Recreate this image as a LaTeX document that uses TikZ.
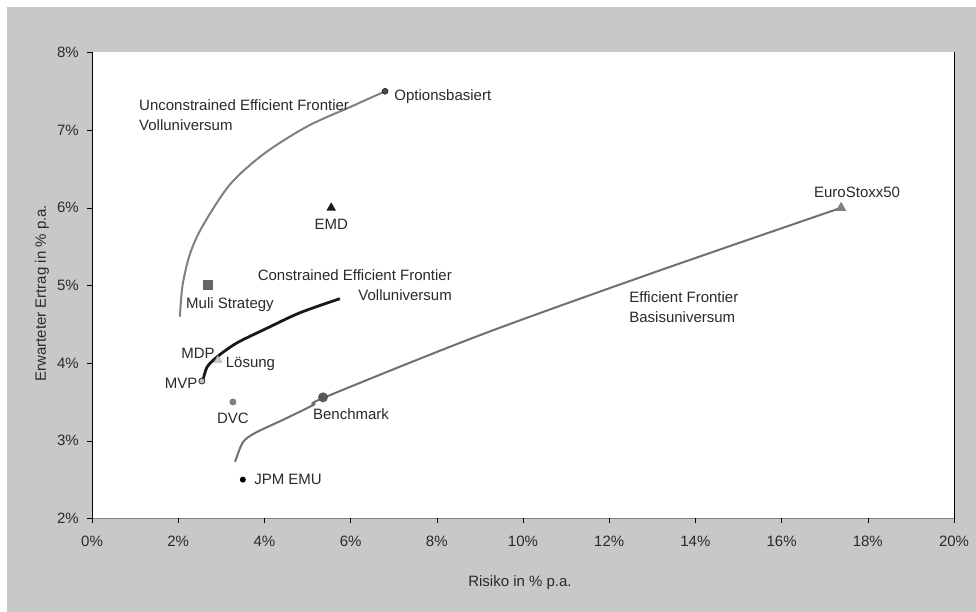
\documentclass[tikz,border=0pt]{standalone}
\usepackage{fontspec}
\setmainfont{Liberation Sans}
\usepackage{xcolor}
\usetikzlibrary{positioning,shapes.geometric}
\definecolor{chartbg}{HTML}{C8C8C8}
\definecolor{txt}{HTML}{2A2A2A}
\definecolor{lightline}{HTML}{808080}
\definecolor{darkline}{HTML}{707070}
\begin{document}
\begin{tikzpicture}[x=43.1pt,y=77.67pt,font=\fontsize{15}{20}\selectfont,
  lbl/.style={inner sep=1pt,text=txt},
  tri/.style={regular polygon,regular polygon sides=3,inner sep=0pt},
  dot/.style={circle,inner sep=0pt}]
\fill[white](-2.1346,0.7962)rectangle(20.5104,8.6757);
\useasboundingbox(-2.1346,0.7962)rectangle(20.5104,8.6757);
\fill[chartbg](-1.972,0.7962)rectangle(20.5104,8.586);
\fill[white](0,2)rectangle(20,8);
% axes
\draw[lightline,line width=1.5pt](0,2)--(20,2);
\draw[black,line width=1pt](0,2)--(0,8);
\draw[black,line width=1pt](20,2)--(20,8);
\foreach \y in {2,...,8}
  \draw[black](0,\y)--++(-5pt,0)node[lbl,anchor=east,xshift=-7pt]{\y\%};
\foreach \x in {0,2,...,20}
  \draw[black](\x,2)--++(0,-5pt)node[lbl,anchor=north,yshift=-11pt]{\x\%};
\node[lbl](xtitle)at(9.93,1.17){Risiko in \% p.a.};
\node[lbl,rotate=90](ytitle)at(-1.16,4.9){Erwarteter Ertrag in \% p.a.};
% frontiers
\draw[lightline,line width=2pt]plot[smooth]coordinates{(2.04,4.6)(2.1,5.0)(2.27,5.4)(2.55,5.75)(3.2,6.3)(4.0,6.7)(5.0,7.05)(6.0,7.3)(6.8,7.5)};
\draw[darkline,line width=2pt]plot[smooth,tension=0.5]coordinates{(3.32,2.73)(3.5,2.98)(3.78,3.1)(4.43,3.27)(5.13,3.46)(5.4,3.56)(9,4.36)(13,5.16)(17.38,6.0)};
\draw[black!90,line width=2.8pt]plot[smooth]coordinates{(2.58,3.79)(2.67,3.95)(2.9,4.08)(3.36,4.26)(4.06,4.45)(4.83,4.65)(5.75,4.83)};
% portfolios
\node[dot,minimum size=6pt,fill=black!70,draw=black](opt)at(6.8,7.5){};
\node[tri,minimum size=11pt,fill=black!90](emd)at(5.55,6.0){};
\node[tri,minimum size=12pt,fill=lightline](euro)at(17.38,6.0){};
\node[dot,minimum size=10pt,fill=black!65](bench)at(5.36,3.56){};
\node[rectangle,inner sep=0pt,minimum size=10pt,fill=black!60](muli)at(2.69,5.0){};
\node[dot,minimum size=7pt,fill=gray](dvc)at(3.27,3.5){};
\node[dot,minimum size=6pt,fill=black](jpm)at(3.5,2.5){};
\node[tri,minimum size=9pt,draw=gray,fill=gray!40](mdp)at(2.92,4.04){};
\node[dot,minimum size=6pt,draw=black!80,fill=gray!50,thick](mvp)at(2.55,3.77){};
% labels
\node[lbl,right=5pt of opt,yshift=-5pt](optl){Optionsbasiert};
\node[lbl,below=7pt of emd](emdl){EMD};
\node[lbl,above=3pt of euro,xshift=16pt](eurol){EuroStoxx50};
\node[lbl,below=5pt of bench,xshift=28pt](benchl){Benchmark};
\node[lbl,below=6pt of muli,xshift=22pt](mulil){Muli Strategy};
\node[lbl,below=6pt of dvc](dvcl){DVC};
\node[lbl,right=7pt of jpm](jpml){JPM EMU};
\node[lbl,anchor=east](mdpl)at([shift={(-2pt,7pt)}]mdp.center){MDP};
\node[lbl,right=4pt of mdp,yshift=-3.5pt](loesl){Lösung};
\node[lbl,left=0pt of mvp,yshift=-2pt](mvpl){MVP};
\node[lbl,align=left,anchor=north west](unconl)at(1.067,7.414){Unconstrained Efficient Frontier\\Volluniversum};
\node[lbl,align=right,anchor=north east](conl)at(8.376,5.215){Constrained Efficient Frontier\\Volluniversum};
\node[lbl,align=left,anchor=north west](basisl)at(12.44,4.93){Efficient Frontier\\Basisuniversum};
\end{tikzpicture}
\end{document}
